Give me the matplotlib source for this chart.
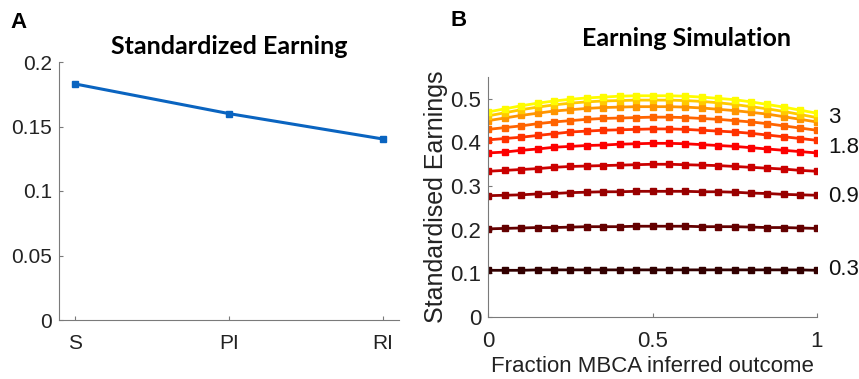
import numpy as np
import matplotlib
matplotlib.use("Agg")
import matplotlib.pyplot as plt

# ---- Panel A data ----
a_categories = ["S", "PI", "RI"]
a_values = [0.183, 0.160, 0.1403]

# ---- Panel B data ----
b_x = [round(0.05 * i, 2) for i in range(21)]
b_params = [0.3, 0.6, 0.9, 1.2, 1.5, 1.8, 2.1, 2.4, 2.7, 3.0]
b_s03 = [0.107, 0.107, 0.107, 0.108, 0.108, 0.108, 0.108, 0.108, 0.108, 0.108, 0.108,
         0.108, 0.108, 0.108, 0.108, 0.108, 0.108, 0.108, 0.108, 0.108, 0.107]
b_s06 = [0.202, 0.203, 0.204, 0.205, 0.205, 0.206, 0.207, 0.207, 0.207, 0.208, 0.208,
         0.208, 0.208, 0.207, 0.207, 0.207, 0.206, 0.205, 0.205, 0.204, 0.203]
b_s09 = [0.278, 0.279, 0.280, 0.282, 0.283, 0.285, 0.286, 0.287, 0.287, 0.288, 0.288,
         0.288, 0.288, 0.287, 0.287, 0.286, 0.284, 0.283, 0.281, 0.280, 0.279]
b_s12 = [0.334, 0.336, 0.338, 0.340, 0.343, 0.345, 0.346, 0.347, 0.348, 0.349, 0.350,
         0.350, 0.349, 0.348, 0.347, 0.345, 0.343, 0.341, 0.339, 0.336, 0.334]
b_s15 = [0.376, 0.378, 0.382, 0.385, 0.389, 0.391, 0.393, 0.394, 0.396, 0.397, 0.398,
         0.398, 0.397, 0.395, 0.393, 0.391, 0.388, 0.385, 0.382, 0.379, 0.376]
b_s18 = [0.406, 0.409, 0.412, 0.416, 0.420, 0.424, 0.426, 0.428, 0.429, 0.430, 0.431,
         0.431, 0.430, 0.428, 0.426, 0.424, 0.421, 0.417, 0.413, 0.409, 0.405]
b_s21 = [0.430, 0.434, 0.438, 0.443, 0.447, 0.450, 0.453, 0.455, 0.456, 0.457, 0.458,
         0.458, 0.457, 0.455, 0.453, 0.450, 0.447, 0.443, 0.438, 0.433, 0.428]
b_s24 = [0.450, 0.456, 0.462, 0.467, 0.472, 0.475, 0.478, 0.480, 0.481, 0.482, 0.482,
         0.482, 0.481, 0.479, 0.476, 0.473, 0.469, 0.465, 0.459, 0.453, 0.447]
b_s27 = [0.461, 0.468, 0.475, 0.481, 0.486, 0.490, 0.493, 0.495, 0.496, 0.497, 0.497,
         0.497, 0.496, 0.494, 0.491, 0.487, 0.482, 0.477, 0.471, 0.464, 0.457]
b_s30 = [0.470, 0.477, 0.484, 0.490, 0.495, 0.499, 0.502, 0.504, 0.506, 0.507, 0.507,
         0.507, 0.506, 0.504, 0.501, 0.498, 0.493, 0.487, 0.481, 0.474, 0.467]
b_series = [b_s03, b_s06, b_s09, b_s12, b_s15, b_s18, b_s21, b_s24, b_s27, b_s30]
b_label_names = ["3", "1.8", "0.9", "0.3"]
b_label_y = [0.457, 0.389, 0.277, 0.109]

plt.rcParams['font.family'] = ['Liberation Sans', 'DejaVu Sans']

fig = plt.figure(figsize=(8.59, 3.79), dpi=100)
W, H = 859, 379

def ax_rect(l, r, t, b):
    return [l / W, 1 - b / H, (r - l) / W, (b - t) / H]

spine_c = '#7a7a7a'

def style(ax, fs, padx, pady):
    for s in ['top', 'right']:
        ax.spines[s].set_visible(False)
    for s in ['left', 'bottom']:
        ax.spines[s].set_color(spine_c)
        ax.spines[s].set_linewidth(0.8)
    ax.tick_params(direction='in', length=3, width=0.8, color=spine_c,
                   labelsize=fs, labelcolor='#222222')
    ax.tick_params(axis='x', pad=padx)
    ax.tick_params(axis='y', pad=pady)

# Panel A
axA = fig.add_axes(ax_rect(59, 399, 62, 320))
xa = np.arange(1, len(a_categories) + 1)
axA.plot(xa, a_values, color='#0a64c0', lw=2.2, marker='s', ms=4)
axA.set_xlim(0.896, 3.104)
axA.set_ylim(0, 0.2)
axA.set_xticks(xa)
axA.set_xticklabels(a_categories)
axA.set_yticks([0, 0.05, 0.1, 0.15, 0.2])
axA.set_yticklabels(['0', '0.05', '0.1', '0.15', '0.2'])
style(axA, 15, 10, 5)
fig.text(229 / W, 1 - 46 / H, 'Standardized Earning', ha='center', va='center',
         fontsize=18, fontweight='bold', family=['Lato', 'DejaVu Sans'])
fig.text(10 / W, 1 - 23 / H, 'A', ha='left', va='center', fontsize=16,
         fontweight='bold')

# Panel B
axB = fig.add_axes(ax_rect(488.3, 816.7, 77, 317))
cmap = plt.get_cmap('hot')
cols = [cmap(v) for v in np.linspace(0.06, 0.74, len(b_series))]
for ys, c in zip(b_series, cols):
    axB.plot(b_x, ys, color=c, lw=2.0, marker='s', ms=4.5)
axB.set_xlim(0, 1)
axB.set_ylim(0, 0.55)
axB.set_xticks([0, 0.5, 1])
axB.set_xticklabels(['0', '0.5', '1'])
axB.set_yticks([0, 0.1, 0.2, 0.3, 0.4, 0.5])
axB.set_yticklabels(['0', '0.1', '0.2', '0.3', '0.4', '0.5'])
style(axB, 16, 10, 5)
axB.set_xlabel('Fraction MBCA inferred outcome', fontsize=16, color='#222222',
               labelpad=3)
axB.set_ylabel('Standardised Earnings', fontsize=18, color='#222222', labelpad=2)
for name, yv in zip(b_label_names, b_label_y):
    axB.text(1.034, yv, name, fontsize=16, ha='left', va='center', color='#111111',
             clip_on=False)
fig.text(686 / W, 1 - 39 / H, 'Earning Simulation', ha='center', va='center',
         fontsize=18, fontweight='bold', family=['Lato', 'DejaVu Sans'])
fig.text(450 / W, 1 - 20 / H, 'B', ha='left', va='center', fontsize=16,
         fontweight='bold')

fig.savefig('out.png', dpi=100)
